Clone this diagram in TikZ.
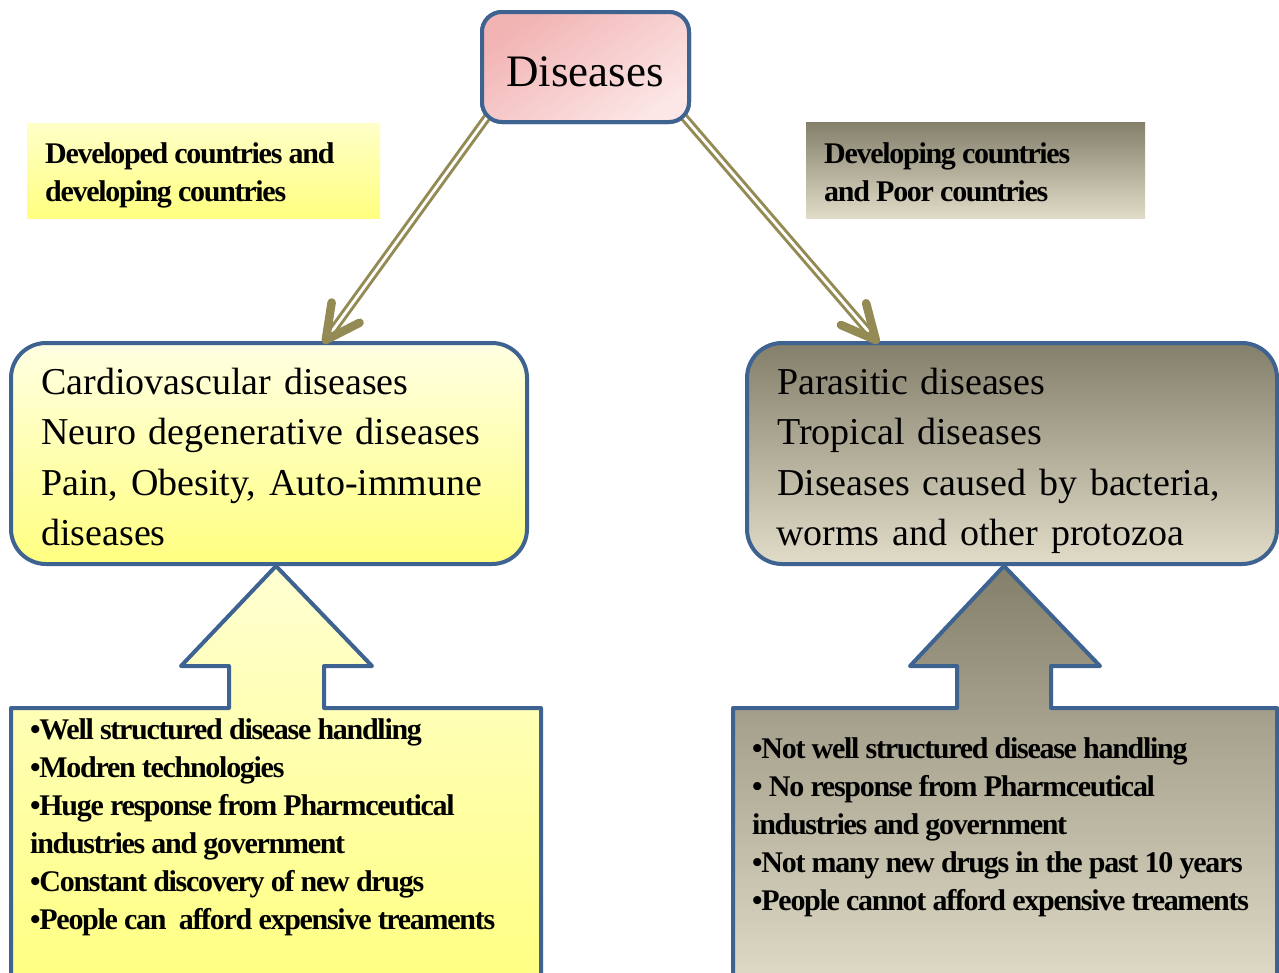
\documentclass[tikz,border=0pt]{standalone}
\usepackage{fontspec}
\setmainfont{Liberation Serif}
\newfontfamily\mainf[WordSpace=1.35]{Liberation Serif}
\newfontfamily\cbf[LetterSpace=-4.3]{Liberation Serif}
\usetikzlibrary{calc}
\definecolor{bord}{HTML}{3F6391}
\definecolor{olive}{HTML}{948A54}
\definecolor{pinkA}{HTML}{F2B3B3}
\definecolor{pinkB}{HTML}{FCE6E6}
\definecolor{yelA}{HTML}{FFFFE3}
\definecolor{yelB}{HTML}{FFFF80}
\definecolor{yelC}{HTML}{FFFFD2}
\definecolor{yelD}{HTML}{FFFFC8}
\definecolor{gryA}{HTML}{837F6B}
\definecolor{gryB}{HTML}{E0DCC7}
\begin{document}
\begin{tikzpicture}[x=1pt,y=-1pt,
  boxst/.style={draw=bord,line width=4pt,inner sep=0pt,outer sep=0pt},
  capst/.style={inner sep=0pt,outer sep=0pt},
  blk/.style={draw=bord,line width=4pt,line join=round},
  shaft/.style={draw=olive,double=white,line width=3pt,double distance=2.8pt,shorten >=5pt},
  headst/.style={draw=olive,line width=8.5pt,line cap=round,line join=round},
  bigtxt/.style={anchor=base west,inner sep=0pt,font=\mainf\fontsize{38}{46}\selectfont},
  smtxt/.style={anchor=base west,inner sep=0pt,font=\cbf\bfseries\fontsize{30}{36}\selectfont}]
\useasboundingbox (0,0) rectangle (1279,972);
\fill[white] (0,0) rectangle (1279,972);
% captions
\node[capst,minimum width=353pt,minimum height=95pt,top color=yelD,bottom color=yelB] (capL) at (203.5,170.5) {};
\node[capst,minimum width=339pt,minimum height=96pt,top color=gryA,bottom color=gryB] (capR) at (975.5,170) {};
\node[smtxt] (capL1) at (45,163) {Developed countries and};
\node[smtxt] (capL2) at (45,201) {developing countries};
\node[smtxt] (capR1) at (824,163) {Developing countries};
\node[smtxt] (capR2) at (824,201) {and Poor countries};
% main boxes
\node[boxst,rounded corners=35pt,minimum width=516pt,minimum height=221pt,top color=yelA,bottom color=yelB] (lb) at (269,453.5) {};
\node[boxst,rounded corners=35pt,minimum width=530pt,minimum height=221pt,top color=gryA,bottom color=gryB] (rb) at (1012,453.5) {};
% connectors
\coordinate (tL) at ($(lb.north west)!0.61!(lb.north east)+(0,-3)$);
\coordinate (tR) at ($(rb.north west)!0.243!(rb.north east)+(0,-3)$);
\node[boxst,rounded corners=20pt,minimum width=207pt,minimum height=110pt,top color=pinkA,bottom color=pinkB,shading angle=35] (dis) at (585.5,67) {};
\coordinate (sL) at ($(dis.south west)+(6,-6)$);
\coordinate (sR) at ($(dis.south east)+(-6,-6)$);
\draw[shaft] (sL) -- (tL);
\draw[shaft] (sR) -- (tR);
\draw[headst] ($(tL)!38pt!27:(sL)$) -- (tL) -- ($(tL)!38pt!-27:(sL)$);
\draw[headst] ($(tR)!38pt!26:(sR)$) -- (tR) -- ($(tR)!38pt!-26:(sR)$);
\node[boxst,rounded corners=20pt,minimum width=207pt,minimum height=110pt,top color=pinkA,bottom color=pinkB,shading angle=35] (dis2) at (dis.center) {};
\node[anchor=base,inner sep=0pt,font=\fontsize{45}{50}\selectfont] (distxt) at (585,86) {Diseases};
% main texts
\node[bigtxt] (l1) at (41,394) {Cardiovascular diseases};
\node[bigtxt] (l2) at (41,444.5) {Neuro degenerative diseases};
\node[bigtxt] (l3) at (41,495) {Pain, Obesity, Auto-immune};
\node[bigtxt] (l4) at (41,545.5) {diseases};
\node[bigtxt] (r1) at (777,394) {Parasitic diseases};
\node[bigtxt] (r2) at (777,444.5) {Tropical diseases};
\node[bigtxt] (r3) at (777,495) {Diseases caused by bacteria,};
\node[bigtxt] (r4) at (776,545.5) {worms and other protozoa};
% block arrows with boxes
\draw[blk,top color=yelC,bottom color=yelB] (11,990) -- (11,708) -- (229,708) -- (229,666) -- (181,666) -- (276,566) -- (372,666) -- (324,666) -- (324,708) -- (541,708) -- (541,990) -- cycle;
\draw[blk,top color=gryA,bottom color=gryB] (733,990) -- (733,708) -- (957,708) -- (957,666) -- (910,666) -- (1004,566) -- (1100,666) -- (1051,666) -- (1051,708) -- (1277,708) -- (1277,990) -- cycle;
% bottom texts
\node[smtxt] (b1) at (30,739) {•Well structured disease handling};
\node[smtxt] (b2) at (30,777) {•Modren technologies};
\node[smtxt] (b3) at (30,815) {•Huge response from Pharmceutical};
\node[smtxt] (b4) at (30,853) {industries and government};
\node[smtxt] (b5) at (30,891) {•Constant discovery of new drugs};
\node[smtxt] (b6) at (30,929) {•People can\hspace{6pt} afford expensive treaments};
\node[smtxt] (c1) at (752,758) {•Not well structured disease handling};
\node[smtxt] (c2) at (752,796) {• No response from Pharmceutical};
\node[smtxt] (c3) at (752,834) {industries and government};
\node[smtxt] (c4) at (752,872) {•Not many new drugs in the past 10 years};
\node[smtxt] (c5) at (752,910) {•People cannot afford expensive treaments};
\end{tikzpicture}
\end{document}
